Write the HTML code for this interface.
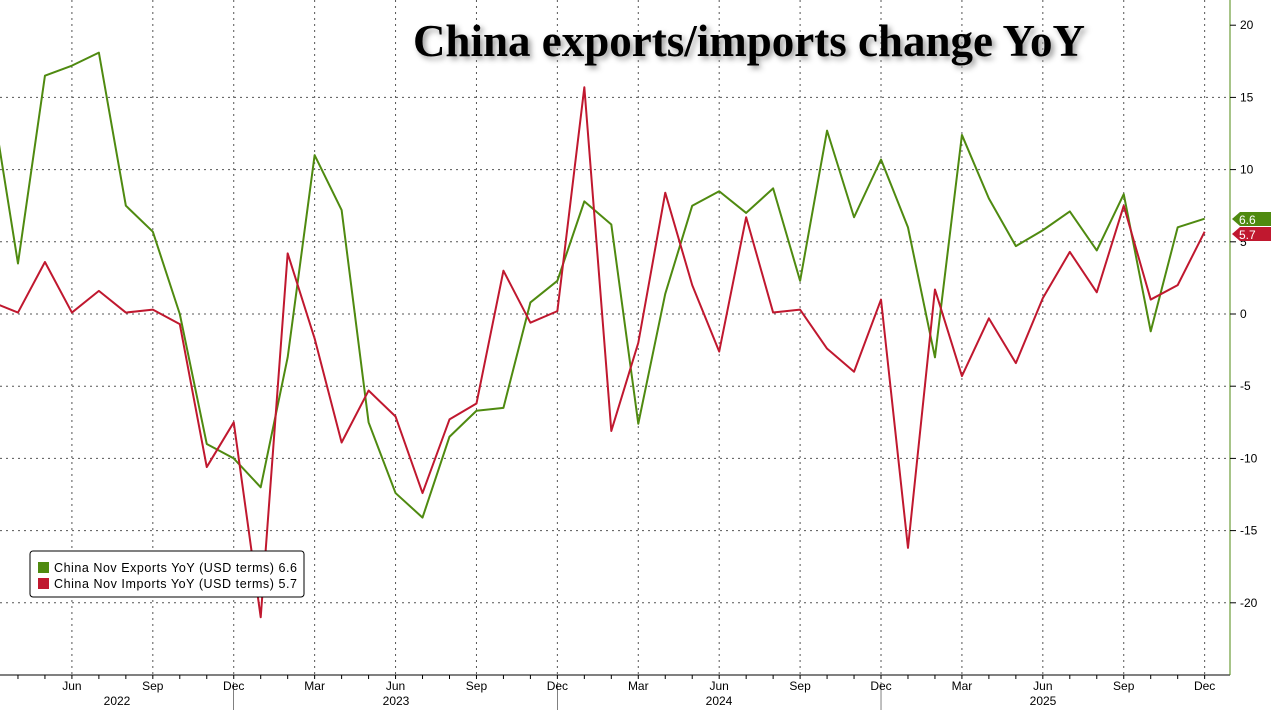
<!DOCTYPE html>
<html><head><meta charset="utf-8"><style>
body{margin:0;background:#fff;width:1271px;height:710px;overflow:hidden}
svg text{font-family:"Liberation Sans",sans-serif}
</style></head><body>
<svg id="s" width="1271" height="710" xmlns="http://www.w3.org/2000/svg">
<rect width="1271" height="710" fill="#fff"/>
<g id="grid" stroke="#555" stroke-width="1" stroke-dasharray="2,4"></g>
<g id="lines"></g>
<line x1="0" y1="675" x2="1230" y2="675" stroke="#000" stroke-width="1"/>
<line x1="1230" y1="0" x2="1230" y2="675" stroke="#4f8a10" stroke-width="1"/>
<g id="ticks" stroke="#000"></g>
<g id="labels" font-size="12" fill="#000"></g>
<text x="749" y="56" text-anchor="middle" font-weight="bold" font-size="45" fill="#000" style="font-family:'Liberation Serif',serif;filter:drop-shadow(3px 3px 3px #999)">China exports/imports change YoY</text>
<polygon points="1232,219 1240,212 1271,212 1271,226 1240,226" fill="#4f8a10"/>
<text x="1239" y="224" font-size="12" fill="#fff">6.6</text>
<polygon points="1232,234 1240,227 1271,227 1271,241 1240,241" fill="#c0182f"/>
<text x="1239" y="239" font-size="12" fill="#fff">5.7</text>
<rect x="30" y="551" width="274" height="46" rx="3" fill="#fff" stroke="#000"/>
<rect x="38" y="562" width="11" height="11" fill="#4f8a10"/>
<rect x="38" y="578" width="11" height="11" fill="#c0182f"/>
<text x="54" y="572" font-size="12.5" textLength="243">China Nov Exports YoY (USD terms)  6.6</text>
<text x="54" y="588" font-size="12.5" textLength="243">China Nov Imports YoY (USD terms)  5.7</text>
</svg>
<script>
var ns="http://www.w3.org/2000/svg";
function el(p,t,a,txt){var e=document.createElementNS(ns,t);for(var k in a)e.setAttribute(k,a[k]);if(txt)e.textContent=txt;document.getElementById(p).appendChild(e);return e;}
function X(i){return -9+26.97*i}
function Y(v){return 314-14.44*v}
var ex=[15.2,3.5,16.5,17.2,18.1,7.5,5.7,0,-9,-10,-12,-3,11,7.2,-7.5,-12.4,-14.1,-8.5,-6.7,-6.5,0.8,2.3,7.8,6.2,-7.6,1.4,7.5,8.5,7,8.7,2.3,12.7,6.7,10.7,6,-3,12.4,8,4.7,5.8,7.1,4.4,8.3,-1.2,6,6.6];
var im=[0.85,0.1,3.6,0.1,1.6,0.1,0.3,-0.7,-10.6,-7.5,-21,4.2,-1.7,-8.9,-5.3,-7.1,-12.4,-7.3,-6.2,3,-0.6,0.2,15.7,-8.1,-2,8.4,2,-2.6,6.7,0.1,0.3,-2.4,-4,1,-16.2,1.7,-4.3,-0.3,-3.4,1.1,4.3,1.5,7.5,1,2,5.7];
[20,15,10,5,0,-5,-10,-15,-20].forEach(function(v){
 if(v!=20)el("grid","line",{x1:0,y1:Y(v),x2:1230,y2:Y(v)});
 el("ticks","line",{x1:1230,y1:Y(v),x2:1236,y2:Y(v)});
 el("labels","text",{x:1240,y:Y(v)+4},String(v));
});
var mn=["Jun","Sep","Dec","Mar"];
for(var i=0;i<46;i++){var x=X(i);
 el("ticks","line",{x1:x,y1:675,x2:x,y2:679});
 if(i%3==0&&i>0){var idx=((i/3)-1)%4;el("grid","line",{x1:x,y1:0,x2:x,y2:675});
  el("labels","text",{x:x,y:690,"text-anchor":"middle"},mn[idx]);}
}
[X(9),X(21),X(33)].forEach(function(a){el("ticks","line",{x1:a,y1:682,x2:a,y2:710,"stroke-width":0.5});});
[["2022",117],["2023",396],["2024",719],["2025",1043]].forEach(function(a){el("labels","text",{x:a[1],y:705,"text-anchor":"middle"},a[0]);});
function pl(d,c){el("lines","polyline",{points:d.map(function(v,i){return X(i)+","+Y(v)}).join(" "),fill:"none",stroke:c,"stroke-width":2,"stroke-linejoin":"round"});}
pl(ex,"#4f8a10");pl(im,"#c0182f");
</script>
</body></html>
